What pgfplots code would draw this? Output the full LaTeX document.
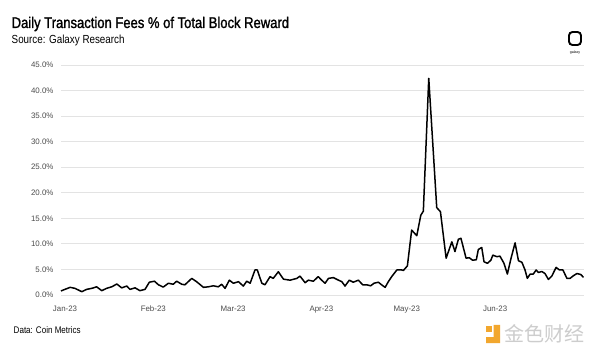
\documentclass[border=0pt]{standalone}
\usepackage{pgfplots}
\pgfplotsset{compat=1.18}
\usepackage{pgfplotstable}
\usepackage{fontspec}
\setmainfont{Liberation Sans}
\newfontfamily\galaxyfont[FakeStretch=0.84]{Liberation Sans}
\newfontfamily\galaxytitle[FakeStretch=0.84,FakeBold=1.3]{Liberation Sans}
\newfontfamily\cjk{Noto Sans CJK SC}
\definecolor{gridgray}{HTML}{E3E3E3}
\definecolor{ticklab}{HTML}{4D4D4D}
\definecolor{wm}{HTML}{CDCDCD}
\definecolor{wmorange}{HTML}{F2A72E}

\pgfplotstableread{
day val
-1.4 0.8
1.8 1.5
3.5 1.3
5.9 0.65
7.6 1.1
9.4 1.3
11.1 1.6
12.9 0.85
14.6 1.3
16.4 1.6
18.2 2.15
19.9 1.4
21.7 1.75
22.8 1.1
24.6 1.4
26.3 0.85
28.1 1.1
29.6 2.5
31.4 2.7
32.8 2.0
34.5 1.55
36.3 2.3
38.0 2.1
39.2 2.7
41.0 2.1
42.1 2.0
44.5 3.25
46.2 2.6
48.6 1.5
50.3 1.6
52.1 1.8
53.8 1.6
55.0 2.1
56.2 1.3
57.7 2.9
59.1 2.3
60.9 2.6
62.6 1.75
63.8 2.7
65.0 2.3
66.7 4.9
67.5 4.9
69.1 2.3
70.2 2.0
72.0 3.6
73.1 3.25
74.9 4.55
76.7 3.1
79.0 2.9
81.4 3.25
82.5 3.7
84.3 2.4
85.4 2.9
87.2 2.7
88.9 3.6
90.1 2.9
91.3 2.3
92.5 3.25
94.2 3.4
96.0 2.9
97.2 2.6
98.3 1.75
99.8 2.9
101.2 2.5
103.0 2.9
104.5 2.0
105.9 2.0
107.3 1.8
108.5 2.3
110.0 2.5
111.6 1.8
112.4 1.5
113.5 2.6
114.7 3.6
116.5 4.9
118.2 4.9
118.8 4.8
120.2 5.7
121.7 12.7
123.5 11.6
124.9 15.6
125.8 16.4
127.7 42.4
130.5 17.1
131.8 16.3
133.8 7.2
135.8 10.4
136.9 8.5
138.1 10.9
139.0 11.1
140.8 7.2
141.9 7.3
143.1 6.8
144.4 6.9
145.1 8.9
146.3 9.3
147.1 6.5
148.3 6.2
149.5 6.8
150.2 7.8
151.6 7.5
152.7 7.6
154.1 6.2
155.3 4.1
156.5 7.0
158.0 10.2
159.2 6.7
160.4 6.4
161.5 4.9
162.3 3.25
163.3 4.1
164.4 4.1
165.4 4.9
166.2 4.4
167.4 4.6
168.5 4.2
169.7 3.05
170.9 3.7
172.4 5.4
173.6 4.9
174.8 4.9
176.2 3.25
177.3 3.25
178.3 3.7
179.7 4.2
181.1 4.0
182.0 3.45
}\feedata

\begin{document}
\begin{tikzpicture}[x=1pt,y=1pt]
\fill[white] (0,0) rectangle (600,359);
\path[use as bounding box] (0,0) rectangle (600,359);
\begin{axis}[
  at={(61pt,64pt)}, anchor=south west,
  scale only axis, width=523pt, height=230pt,
  xmin=-1.4, xmax=182.2, ymin=0, ymax=45,
  axis line style={draw=none},
  major tick length=0pt,
  ymajorgrids, grid style={gridgray, line width=0.8pt},
  ytick={0,5,10,15,20,25,30,35,40,45},
  yticklabels={0.0\%,5.0\%,10.0\%,15.0\%,20.0\%,25.0\%,30.0\%,35.0\%,40.0\%,45.0\%},
  xtick={0,31,59,90,120,151},
  xticklabels={Jan-23,Feb-23,Mar-23,Apr-23,May-23,Jun-23},
  tick label style={font=\fontsize{7.9}{9}\selectfont, text=ticklab},
  yticklabel style={xshift=-4pt},
  xticklabel style={yshift=-7pt},
  clip=false,
]
\addplot[black, line width=1.5pt, line join=round] table[x=day,y=val]{\feedata};
\end{axis}
% titles
\node[anchor=base west, inner sep=0] at (11.5,331) {\galaxytitle\fontsize{15.5}{18}\selectfont Daily Transaction Fees \% of Total Block Reward};
\node[anchor=base west, inner sep=0] at (11.5,315.5) {\galaxyfont\fontsize{11.7}{14}\selectfont Source: Galaxy Research};
\node[anchor=base west, inner sep=0] at (13.5,26) {\galaxyfont\fontsize{9.6}{11}\selectfont Data: Coin Metrics};
% galaxy logo
\draw[black, line width=1.9pt, rounded corners=3.5pt] (569,314) rectangle (581,327);
\node[anchor=base, inner sep=0] at (575,305) {\fontsize{3.6}{4}\selectfont galaxy};
% watermark
\fill[wmorange] (486,27) rectangle (491.5,32.5);
\fill[wmorange] (493.5,34) -- (500,34) -- (500,16) -- (486,16) -- (486,22) -- (493.5,22) -- cycle;
\node[anchor=west, inner sep=0] at (504,25) {\cjk\fontsize{20}{22}\selectfont\color{wm}金色财经};
\end{tikzpicture}
\end{document}
